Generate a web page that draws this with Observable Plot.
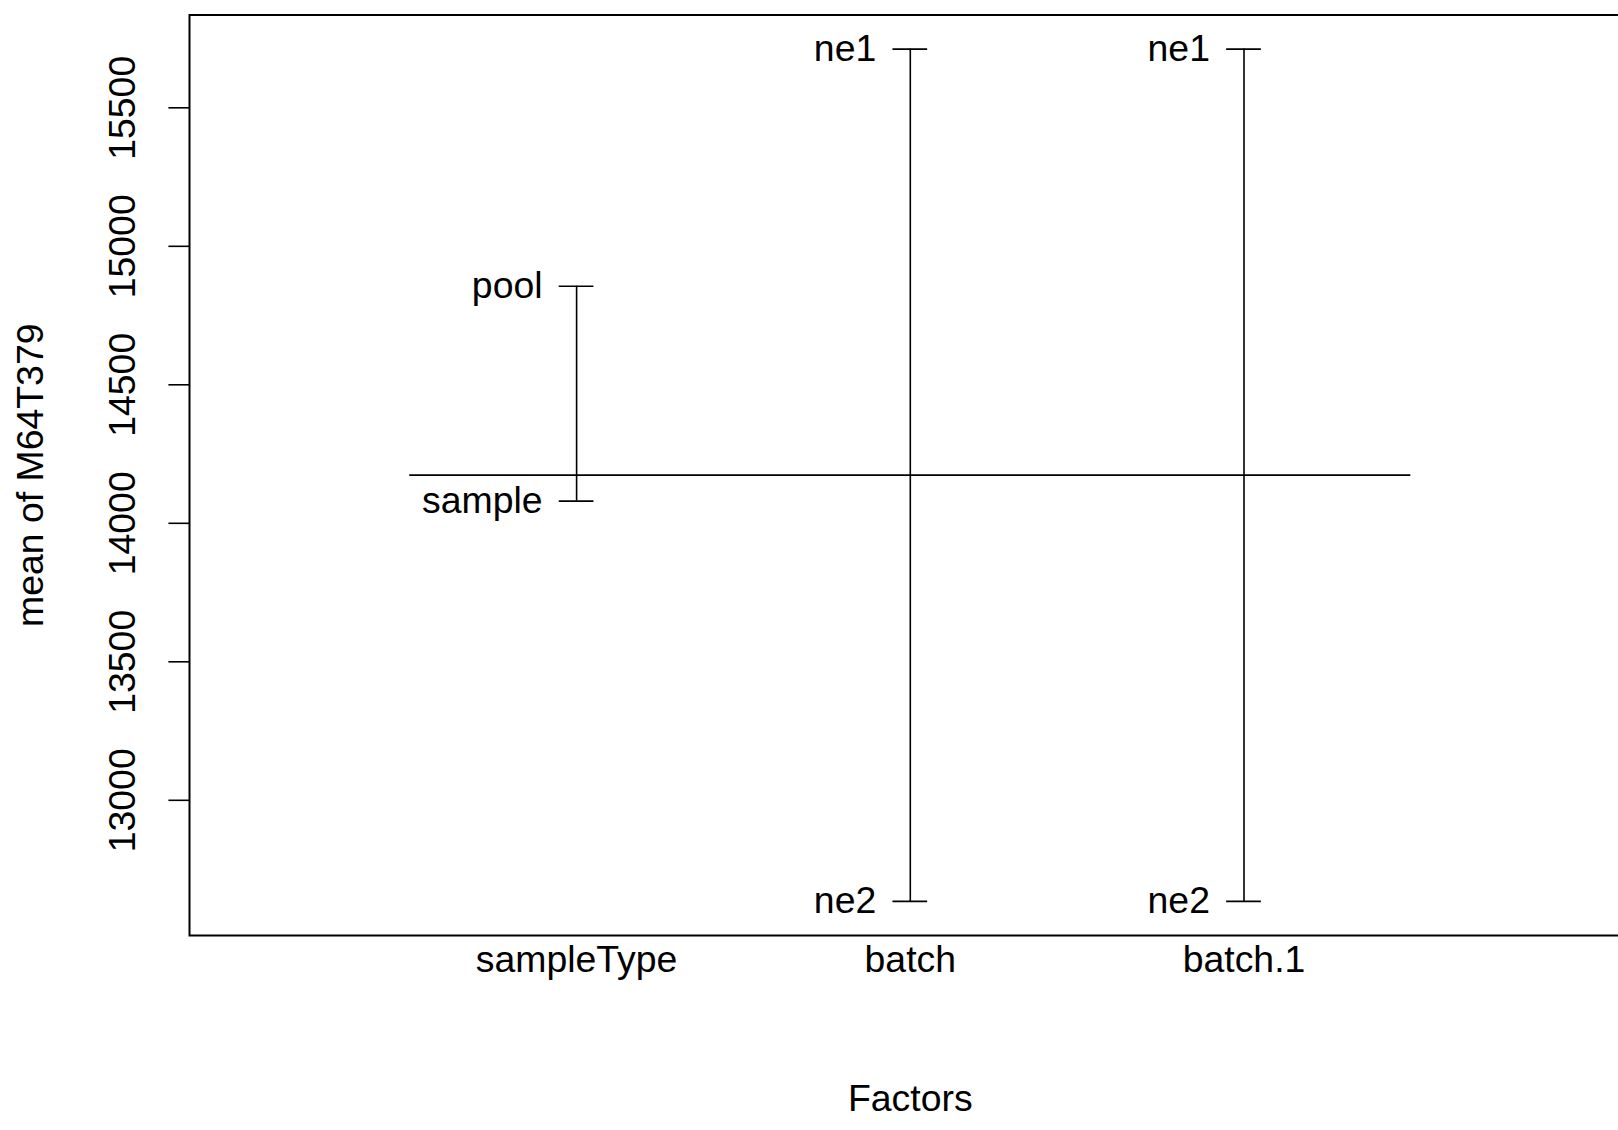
<!DOCTYPE html>
<html>
<head>
<meta charset="utf-8">
<script src="https://cdn.jsdelivr.net/npm/d3@7"></script>
<script src="https://cdn.jsdelivr.net/npm/@observablehq/plot@0.6"></script>
<style>
  html, body { margin: 0; padding: 0; background: #fff; overflow: hidden; }
  #chart svg { display: block; }
</style>
</head>
<body>
<div id="chart"></div>
<script>
// ---- data ----
const factors = ["sampleType", "batch", "batch.1"];
const levelFactor = ["sampleType", "sampleType", "batch", "batch", "batch.1", "batch.1"];
const levelNames = ["pool", "sample", "ne1", "ne2", "ne1", "ne2"];
const levelMeans = [14856, 14080, 15712, 12635, 15712, 12635];
const grandMean = 14174;
const yTicks = [13000, 13500, 14000, 14500, 15000, 15500];
const yLabel = "mean of M64T379";
const xLabel = "Factors";

// ---- derived tables ----
const levels = levelNames.map((name, i) => ({
  factor: levelFactor[i],
  fi: factors.indexOf(levelFactor[i]) + 1,
  name,
  mean: levelMeans[i]
}));
const spans = factors.map((f, i) => {
  const ms = levels.filter(d => d.factor === f).map(d => d.mean);
  return {factor: f, fi: i + 1, lo: d3.min(ms), hi: d3.max(ms)};
});
const factorRows = factors.map((f, i) => ({factor: f, fi: i + 1}));

// R-style 4% range extension
const yMin = d3.min(levelMeans), yMax = d3.max(levelMeans);
const yExt = 0.04 * (yMax - yMin);
const xExt = 0.04 * (factors.length + 1);

const font = "'Liberation Sans', Arial, Helvetica, sans-serif";
const fs = 37.4;

const chart = Plot.plot({
  width: 1618,
  height: 1130,
  marginLeft: 189,
  marginTop: 14.5,
  marginBottom: 195,
  marginRight: -12.6,
  style: {fontFamily: font, fontSize: fs + "px", background: "#fff", color: "#000", overflow: "visible"},
  x: {type: "linear", domain: [0 - xExt, factors.length + 1 + xExt], axis: null},
  y: {domain: [yMin - yExt, yMax + yExt], axis: null},
  marks: [
    Plot.frame({stroke: "#000", strokeWidth: 2}),
    // y axis ticks
    Plot.axisY({ticks: yTicks, tickSize: 20.6, tickFormat: () => "", label: null, stroke: "#000", strokeWidth: 1.6}),
    Plot.text(yTicks, {
      y: d => d, text: d => String(d), frameAnchor: "left", dx: -66,
      rotate: -90, textAnchor: "middle", lineAnchor: "middle", fontSize: fs, fill: "#000"
    }),
    // y axis title
    Plot.text([yLabel], {
      text: d => d, frameAnchor: "left", dx: -158.5, rotate: -90,
      textAnchor: "middle", lineAnchor: "middle", fontSize: fs, fill: "#000"
    }),
    // factor names below the frame
    Plot.text(factorRows, {
      x: "fi", text: "factor", frameAnchor: "bottom", dy: 24.5,
      textAnchor: "middle", lineAnchor: "middle", fontSize: fs, fill: "#000"
    }),
    // x axis title
    Plot.text([xLabel], {
      x: () => (factors.length + 1) / 2, text: d => d, frameAnchor: "bottom", dy: 164,
      textAnchor: "middle", lineAnchor: "middle", fontSize: fs, fill: "#000"
    }),
    // grand mean line
    Plot.ruleY([grandMean], {x1: 0.5, x2: factors.length + 0.5, stroke: "#000", strokeWidth: 1.6}),
    // vertical spans
    Plot.ruleX(spans, {x: "fi", y1: "lo", y2: "hi", stroke: "#000", strokeWidth: 1.6}),
    // level ticks
    Plot.ruleY(levels, {y: "mean", x1: d => d.fi - 0.052, x2: d => d.fi + 0.052, stroke: "#000", strokeWidth: 1.6}),
    // level labels
    Plot.text(levels, {
      x: d => d.fi - 0.102, y: "mean", text: "name",
      textAnchor: "end", lineAnchor: "middle", fontSize: fs, fill: "#000"
    })
  ]
});
document.getElementById("chart").appendChild(chart);
</script>
</body>
</html>
